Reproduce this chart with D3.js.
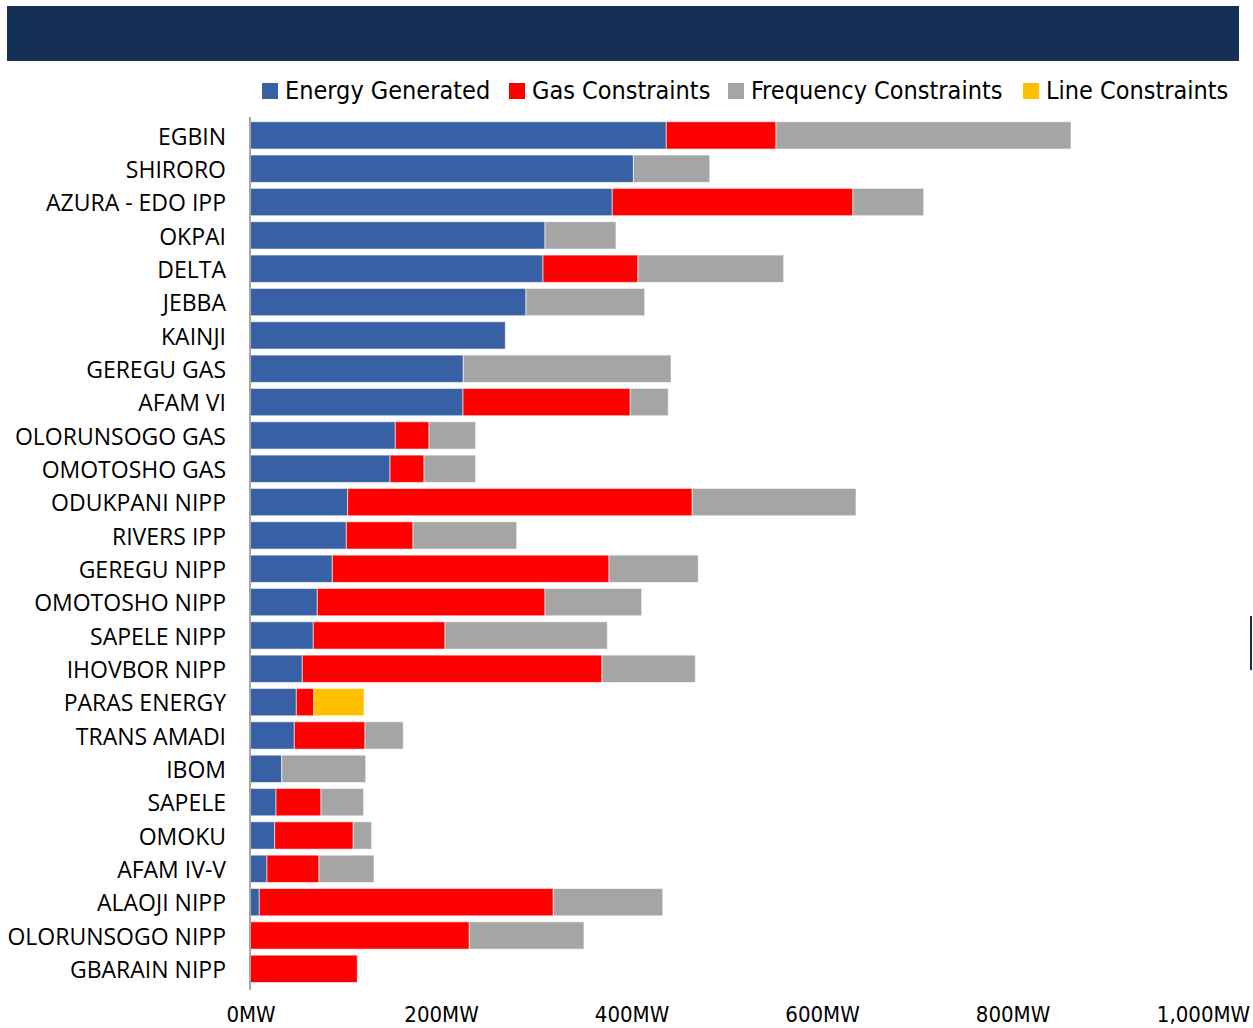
<!DOCTYPE html>
<html><head><meta charset="utf-8">
<script src="https://cdn.jsdelivr.net/npm/d3@7"></script>
<style>
html,body{margin:0;padding:0;background:#fff;}
svg{display:block;}
</style></head>
<body>
<svg id="chart" width="1253" height="1028"></svg>
<script>
const categories = ["EGBIN","SHIRORO","AZURA - EDO IPP","OKPAI","DELTA","JEBBA","KAINJI","GEREGU GAS","AFAM VI","OLORUNSOGO GAS","OMOTOSHO GAS","ODUKPANI NIPP","RIVERS IPP","GEREGU NIPP","OMOTOSHO NIPP","SAPELE NIPP","IHOVBOR NIPP","PARAS ENERGY","TRANS AMADI","IBOM","SAPELE","OMOKU","AFAM IV-V","ALAOJI NIPP","OLORUNSOGO NIPP","GBARAIN NIPP"];
const energyGenerated = [436.5,402,379.8,309.2,307.1,289.2,267.5,223.4,223.1,152,146.5,102,100.6,85.9,70.1,65.9,54.4,48.1,46,32.8,26.8,25.4,17.3,9.2,0,0];
const gasConstraints  = [115.2,0,252.7,0,99.7,0,0,0,175.6,35.4,35.7,361.8,70,290.5,239.1,138.3,314.6,18.3,74.2,0,47.2,82.5,54.6,308.7,229.7,112.1];
const frequencyConstraints = [309.7,80.2,74.3,74.5,153,124.7,0,218.1,39.9,49,54.2,171.9,108.9,93.7,101.5,170.4,98,0,40.2,88.2,44.8,19.3,57.8,114.9,120.4,0];
const lineConstraints = [0,0,0,0,0,0,0,0,0,0,0,0,0,0,0,0,0,52.8,0,0,0,0,0,0,0,0];
const seriesNames = ["Energy Generated","Gas Constraints","Frequency Constraints","Line Constraints"];
const seriesColors = ["#3860A4","#FF0000","#A5A5A5","#FFC000"];
const tickValues = [0,200,400,600,800,1000];
const tickLabels = ["0MW","200MW","400MW","600MW","800MW","1,000MW"];

const svg = d3.select("#chart");
const keys = ["gen","gas","freq","line"];
const rows = categories.map((c,i)=>({cat:c,gen:energyGenerated[i],gas:gasConstraints[i],freq:frequencyConstraints[i],line:lineConstraints[i]}));
const stack = d3.stack().keys(keys)(rows);

const x = d3.scaleLinear().domain([0,1000]).range([250.5,1203]);
const y = d3.scaleBand().domain(categories).range([118.7,985.5]).paddingInner(0.18).paddingOuter(0.09);
const color = d3.scaleOrdinal().domain(keys).range(seriesColors);

// header band
svg.append("rect").attr("x",7).attr("y",6).attr("width",1232).attr("height",55).attr("fill","#153057");
// small edge mark
svg.append("rect").attr("x",1250).attr("y",616).attr("width",2).attr("height",54).attr("fill","#153057");

// bars
svg.append("g").selectAll("g").data(stack).join("g")
  .attr("fill",d=>color(d.key))
  .selectAll("rect").data(d=>d.filter(s=>s[1]-s[0]>0)).join("rect")
  .attr("x",d=>x(d[0])).attr("width",d=>x(d[1])-x(d[0]))
  .attr("y",d=>y(d.data.cat)).attr("height",y.bandwidth())
  .attr("stroke","#ffffff").attr("stroke-opacity",0.6).attr("stroke-width",1);

// y axis
const yAxis = svg.append("g").attr("transform","translate(250,0)")
  .call(d3.axisLeft(y).tickSize(0).tickPadding(24));
yAxis.select(".domain").attr("stroke","#A6A6A6").attr("stroke-width",2)
  .attr("d","M0,117V990");
yAxis.selectAll("text").attr("font-family","'Open Sans', sans-serif").attr("font-size",23).attr("fill","#000").attr("dy","0.4em");

// x axis
const xAxis = svg.append("g").attr("transform","translate(0,993)")
  .call(d3.axisBottom(x).tickValues(tickValues).tickFormat((d,i)=>tickLabels[i]).tickSize(0).tickPadding(13));
xAxis.select(".domain").remove();
xAxis.selectAll("text").attr("font-family","'Liberation Sans Narrow','DejaVu Sans Condensed', sans-serif").attr("font-size",22).attr("fill","#000");

// legend
const legendX = [262,509,728,1023];
const leg = svg.append("g");
seriesNames.forEach((n,i)=>{
  leg.append("rect").attr("x",legendX[i]).attr("y",83).attr("width",16).attr("height",16).attr("fill",seriesColors[i]);
  leg.append("text").attr("x",legendX[i]+23).attr("y",99).text(n)
    .attr("font-family","'Liberation Sans Narrow','DejaVu Sans Condensed', sans-serif").attr("font-size",25).attr("fill","#000");
});
</script>
</body></html>
